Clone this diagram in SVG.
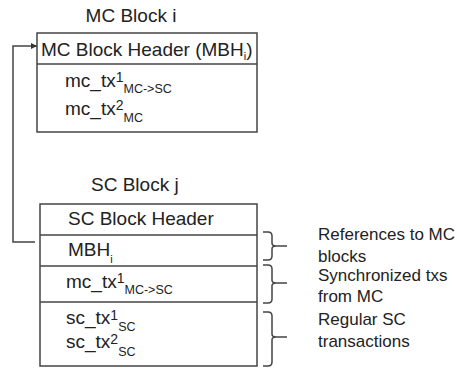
<svg xmlns="http://www.w3.org/2000/svg" width="457" height="369" viewBox="0 0 457 369">
<style>
text{font-family:"Liberation Sans",Arial,sans-serif;fill:#222;}
.t{font-size:19px;}
.sup{font-size:14px;}
.sub{font-size:12.5px;}
.lbl{font-size:17px;}
.box{fill:#fff;stroke:#444;stroke-width:1.5;}
.ln{stroke:#444;stroke-width:1.5;fill:none;}
</style>
<defs>
<marker id="ah" viewBox="0 0 10 10" refX="10" refY="5" markerWidth="6" markerHeight="6" orient="auto" markerUnits="userSpaceOnUse"><path d="M0,0 L10,5 L0,10 z" fill="#333"/></marker>
</defs>
<g id="mc-block">
<text class="t" x="131" y="22" text-anchor="middle">MC Block i</text>
<rect class="box" x="37" y="33" width="220" height="99"/>
<line class="ln" x1="37" y1="64" x2="257" y2="64"/>
<text class="t" x="41" y="56">MC Block Header (MBH<tspan class="sub" style="font-size:11px" y="60">i</tspan><tspan y="56">)</tspan></text>
<text class="t" x="65" y="87">mc_tx<tspan class="sup" y="82">1</tspan><tspan class="sub" y="93">MC-&gt;SC</tspan></text>
<text class="t" x="65" y="115">mc_tx<tspan class="sup" y="110">2</tspan><tspan class="sub" y="122">MC</tspan></text>
</g>
<g id="sc-block">
<text class="t" x="91" y="191">SC Block j</text>
<rect class="box" x="40" y="204" width="217" height="162"/>
<line class="ln" x1="40" y1="235" x2="257" y2="235"/>
<line class="ln" x1="40" y1="266" x2="257" y2="266"/>
<line class="ln" x1="40" y1="302" x2="257" y2="302"/>
<text class="t" x="68" y="225">SC Block Header</text>
<text class="t" x="68" y="256">MBH<tspan class="sub" style="font-size:11px" y="263">i</tspan></text>
<text class="t" x="66" y="288">mc_tx<tspan class="sup" y="283">1</tspan><tspan class="sub" y="294">MC-&gt;SC</tspan></text>
<text class="t" x="66" y="324">sc_tx<tspan class="sup" y="320">1</tspan><tspan class="sub" y="331">SC</tspan></text>
<text class="t" x="66" y="348">sc_tx<tspan class="sup" y="344">2</tspan><tspan class="sub" y="356">SC</tspan></text>
</g>
<g id="connectors">
<polyline class="ln" points="35,242 13,242 13,46 37,46" marker-end="url(#ah)"/>
</g>
<g id="braces">
<path class="ln" d="M263,232 H268 Q272,232 272,236 V243 Q272,246 276,246 H287 M276,246 Q272,246 272,249 V256 Q272,260 268,260 H263"/>
<path class="ln" d="M263,265 H268 Q272,265 272,269 V280 Q272,283 276,283 H287 M276,283 Q272,283 272,286 V299 Q272,303 268,303 H263"/>
<path class="ln" d="M263,312 H268 Q272,312 272,316 V334 Q272,337 276,337 H287 M276,337 Q272,337 272,340 V362 Q272,366 268,366 H263"/>
</g>
<g id="labels">
<text class="lbl" x="318" y="240">References to MC</text>
<text class="lbl" x="318" y="262">blocks</text>
<text class="lbl" x="318" y="281">Synchronized txs</text>
<text class="lbl" x="318" y="302">from MC</text>
<text class="lbl" x="318" y="325">Regular SC</text>
<text class="lbl" x="318" y="347">transactions</text>
</g>
</svg>
